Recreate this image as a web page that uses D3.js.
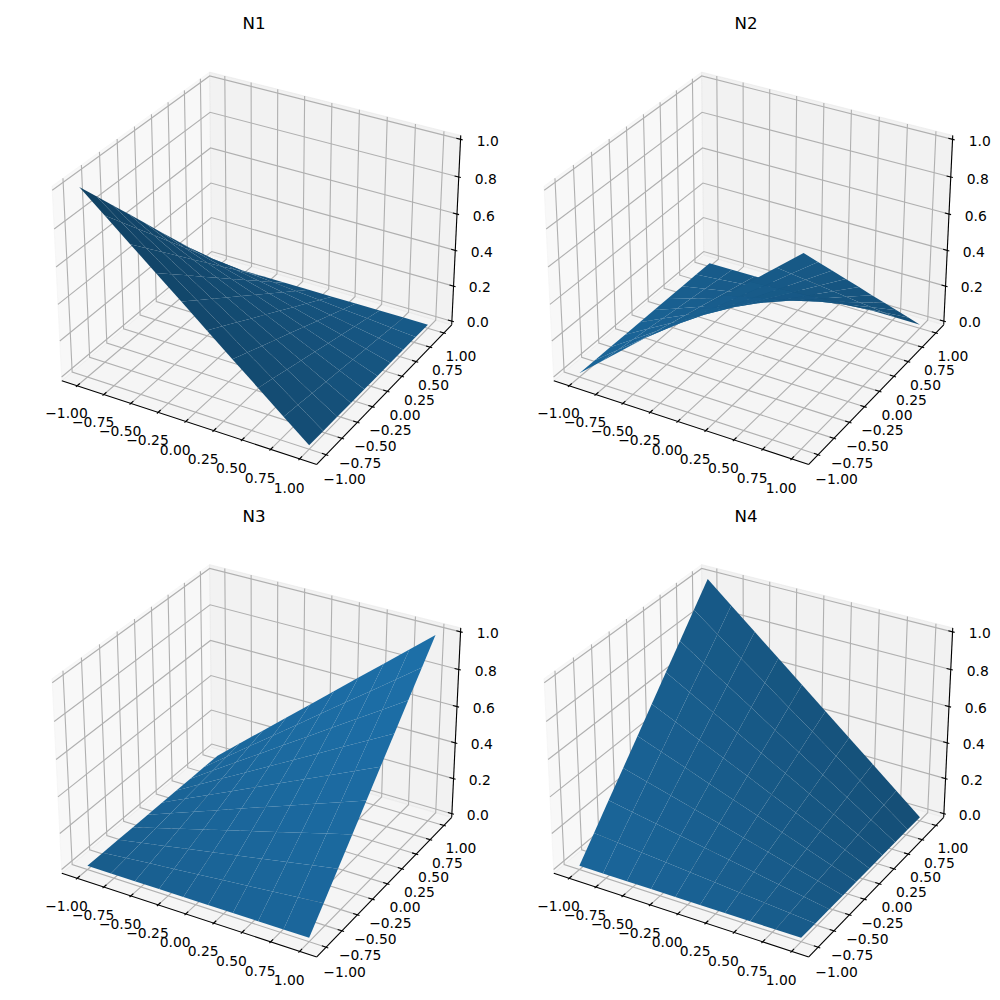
<!DOCTYPE html>
<html><head><meta charset="utf-8">
<script src="https://cdn.jsdelivr.net/npm/d3@7/dist/d3.min.js"></script>
<style>html,body{margin:0;padding:0;background:#fff}svg{display:block}</style>
</head><body><svg id="c" width="1000" height="1000"></svg>
<script>
const titles = ["N1","N2","N3","N4"];
const gridX = [-1,-0.778,-0.556,-0.333,-0.111,0.111,0.333,0.556,0.778,1];
const gridY = [-1,-0.778,-0.556,-0.333,-0.111,0.111,0.333,0.556,0.778,1];
const xTicks = [-1,-0.75,-0.5,-0.25,0,0.25,0.5,0.75,1];
const yTicks = [-1,-0.75,-0.5,-0.25,0,0.25,0.5,0.75,1];
const zTicks = [0,0.2,0.4,0.6,0.8,1];
const n1 = [
[1,.889,.778,.667,.556,.444,.333,.222,.111,0],
[.889,.790,.691,.593,.494,.395,.296,.198,.099,0],
[.778,.691,.605,.519,.432,.346,.259,.173,.086,0],
[.667,.593,.519,.444,.370,.296,.222,.148,.074,0],
[.556,.494,.432,.370,.309,.247,.185,.123,.062,0],
[.444,.395,.346,.296,.247,.198,.148,.099,.049,0],
[.333,.296,.259,.222,.185,.148,.111,.074,.037,0],
[.222,.198,.173,.148,.123,.099,.074,.049,.025,0],
[.111,.099,.086,.074,.062,.049,.037,.025,.012,0],
[0,0,0,0,0,0,0,0,0,0]];
const n2 = [
[0,.111,.222,.333,.444,.556,.667,.778,.889,1],
[0,.099,.198,.296,.395,.494,.593,.691,.790,.889],
[0,.086,.173,.259,.346,.432,.519,.605,.691,.778],
[0,.074,.148,.222,.296,.370,.444,.519,.593,.667],
[0,.062,.123,.185,.247,.309,.370,.432,.494,.556],
[0,.049,.099,.148,.198,.247,.296,.346,.395,.444],
[0,.037,.074,.111,.148,.185,.222,.259,.296,.333],
[0,.025,.049,.074,.099,.123,.148,.173,.198,.222],
[0,.012,.025,.037,.049,.062,.074,.086,.099,.111],
[0,0,0,0,0,0,0,0,0,0]];
const n3 = [
[0,0,0,0,0,0,0,0,0,0],
[0,.012,.025,.037,.049,.062,.074,.086,.099,.111],
[0,.025,.049,.074,.099,.123,.148,.173,.198,.222],
[0,.037,.074,.111,.148,.185,.222,.259,.296,.333],
[0,.049,.099,.148,.198,.247,.296,.346,.395,.444],
[0,.062,.123,.185,.247,.309,.370,.432,.494,.556],
[0,.074,.148,.222,.296,.370,.444,.519,.593,.667],
[0,.086,.173,.259,.346,.432,.519,.605,.691,.778],
[0,.099,.198,.296,.395,.494,.593,.691,.790,.889],
[0,.111,.222,.333,.444,.556,.667,.778,.889,1]];
const n4 = [
[0,0,0,0,0,0,0,0,0,0],
[.111,.099,.086,.074,.062,.049,.037,.025,.012,0],
[.222,.198,.173,.148,.123,.099,.074,.049,.025,0],
[.333,.296,.259,.222,.185,.148,.111,.074,.037,0],
[.444,.395,.346,.296,.247,.198,.148,.099,.049,0],
[.556,.494,.432,.370,.309,.247,.185,.123,.062,0],
[.667,.593,.519,.444,.370,.296,.222,.148,.074,0],
[.778,.691,.605,.519,.432,.346,.259,.173,.086,0],
[.889,.790,.691,.593,.494,.395,.296,.198,.099,0],
[1,.889,.778,.667,.556,.444,.333,.222,.111,0]];
const surfaces = [n1,n2,n3,n4];

// projection (azim -60, elev 30, dist 10, box 4:4:3)
const A = 1.1905, B = 0.903, DIST = 10;
const U=[.8660254,.5,0], V=[-.25,.4330127,.8660254], W=[.4330127,-.75,.5];
const dot=(a,b)=>a[0]*b[0]+a[1]*b[1]+a[2]*b[2];
const XL=[-1.1,1.1], YL=[-1.1,1.1], ZL=[0,1];
const pad=r=>(r[1]-r[0])/48;
const xE=[XL[0]-pad(XL),XL[1]+pad(XL)], yE=[YL[0]-pad(YL),YL[1]+pad(YL)], zE=[ZL[0]-pad(ZL),ZL[1]+pad(ZL)];
const wx=d3.scaleLinear().domain(XL).range([-A/2,A/2]);
const wy=d3.scaleLinear().domain(YL).range([-A/2,A/2]);
const wz=d3.scaleLinear().domain(ZL).range([-B/2,B/2]);
const S=2355;
const sx=d3.scaleLinear().domain([0,1]).range([0,S]);
const sy=d3.scaleLinear().domain([0,1]).range([0,-S]);
const fmtXY=d3.format(".2f"), fmtZ=d3.format(".1f");
const minus=s=>s.replace("-","\u2212");
const svg=d3.select("#c");
const line=d3.line();
const origins=[[260.5,258.5],[752.5,258.5],[260.5,751],[752.5,751]];
const titleAt=[[254,29],[746,29],[254,522],[746,522]];
const LIGHT=[-.6667,-.6667,.3333];
const BASE=[31,119,180];
const shade=v=>.3+.7*((v+1)/2);
const FONT="'DejaVu Sans'";
const dX=(XL[1]-XL[0])/12, dY=(YL[1]-YL[0])/12, dZ=(ZL[1]-ZL[0])/12;
const LAB=0.868;

surfaces.forEach((zs,k)=>{
  const [ox,oy]=origins[k];
  const g=svg.append("g").attr("transform",`translate(${ox},${oy})`);
  const depth=(x,y,z)=>dot([wx(x),wy(y),wz(z)],W);
  const P=(x,y,z)=>{const d=[wx(x),wy(y),wz(z)];const den=DIST-dot(d,W);return [sx(dot(d,U)/den),sy(dot(d,V)/den)];};
  const poly=(pts,f,s)=>g.append("path").attr("d",line(pts.map(p=>P(...p)))+"Z").attr("fill",f).attr("stroke",s).attr("stroke-width",1);
  poly([[xE[0],yE[0],zE[0]],[xE[0],yE[1],zE[0]],[xE[0],yE[1],zE[1]],[xE[0],yE[0],zE[1]]],"rgba(242,242,242,.5)","rgba(242,242,242,.5)");
  poly([[xE[0],yE[1],zE[0]],[xE[1],yE[1],zE[0]],[xE[1],yE[1],zE[1]],[xE[0],yE[1],zE[1]]],"rgba(230,230,230,.5)","rgba(230,230,230,.5)");
  poly([[xE[0],yE[0],zE[0]],[xE[1],yE[0],zE[0]],[xE[1],yE[1],zE[0]],[xE[0],yE[1],zE[0]]],"rgba(236,236,236,.5)","rgba(236,236,236,.5)");
  const gl=(pts)=>g.append("path").attr("d",line(pts.map(p=>P(...p)))).attr("fill","none").attr("stroke","#b0b0b0").attr("stroke-width",1.11);
  xTicks.forEach(t=>gl([[t,yE[0],zE[0]],[t,yE[1],zE[0]],[t,yE[1],zE[1]]]));
  yTicks.forEach(t=>gl([[xE[1],t,zE[0]],[xE[0],t,zE[0]],[xE[0],t,zE[1]]]));
  zTicks.forEach(t=>gl([[xE[0],yE[0],t],[xE[0],yE[1],t],[xE[1],yE[1],t]]));
  const al=(pts,w)=>g.append("path").attr("d",line(pts.map(p=>P(...p)))).attr("fill","none").attr("stroke","#000").attr("stroke-width",w);
  al([[xE[0],yE[0],zE[0]],[xE[1],yE[0],zE[0]]],1.11);
  al([[xE[1],yE[0],zE[0]],[xE[1],yE[1],zE[0]]],1.11);
  al([[xE[1],yE[1],zE[0]],[xE[1],yE[1],zE[1]]],1.11);
  const lab=(p,t)=>{const q=P(...p);g.append("text").attr("x",q[0]).attr("y",q[1]+10).attr("text-anchor","middle").attr("font-family",FONT).attr("font-size",13.89).attr("fill","#000").text(t);};
  xTicks.forEach(t=>{
    al([[t,yE[0]-.1*dY,zE[0]],[t,yE[0]+.2*dY,zE[0]]],1.11);
    lab([t,yE[0]-LAB*dY,zE[0]-LAB*dZ],minus(fmtXY(t)));
  });
  yTicks.forEach(t=>{
    al([[xE[1]+.1*dX,t,zE[0]],[xE[1]-.2*dX,t,zE[0]]],1.11);
    lab([xE[1]+LAB*dX,t,zE[0]-LAB*dZ],minus(fmtXY(t)));
  });
  zTicks.forEach(t=>{
    al([[xE[1]+.1*dX,yE[1],t],[xE[1]-.2*dX,yE[1],t]],1.11);
    lab([xE[1]+LAB*dX,yE[1]+LAB*dY,t],fmtZ(t));
  });
  // surface quads, painter-sorted; normal from the first three corners
  const quads=[];
  for(let j=0;j<gridY.length-1;j++)for(let i=0;i<gridX.length-1;i++){
    const c=[[gridX[i],gridY[j],zs[j][i]],[gridX[i+1],gridY[j],zs[j][i+1]],[gridX[i+1],gridY[j+1],zs[j+1][i+1]],[gridX[i],gridY[j+1],zs[j+1][i]]];
    const d1=[0,1,2].map(m=>c[0][m]-c[1][m]), d2=[0,1,2].map(m=>c[1][m]-c[2][m]);
    const n=[d1[1]*d2[2]-d1[2]*d2[1],d1[2]*d2[0]-d1[0]*d2[2],d1[0]*d2[1]-d1[1]*d2[0]];
    const len=Math.hypot(...n);
    const f=shade(dot(n,LIGHT)/len);
    quads.push({c,f,d:d3.mean(c,p=>depth(...p))});
  }
  quads.sort((a,b)=>d3.ascending(a.d,b.d));
  g.selectAll("path.q").data(quads).join("path").attr("class","q")
    .attr("d",q=>line(q.c.map(p=>P(...p)))+"Z")
    .attr("fill",q=>d3.rgb(BASE[0]*q.f,BASE[1]*q.f,BASE[2]*q.f).formatHex())
    .attr("stroke","none");
  svg.append("text").attr("x",titleAt[k][0]).attr("y",titleAt[k][1]).attr("text-anchor","middle").attr("font-family",FONT).attr("font-size",16.67).attr("fill","#000").text(titles[k]);
});
</script></body></html>
